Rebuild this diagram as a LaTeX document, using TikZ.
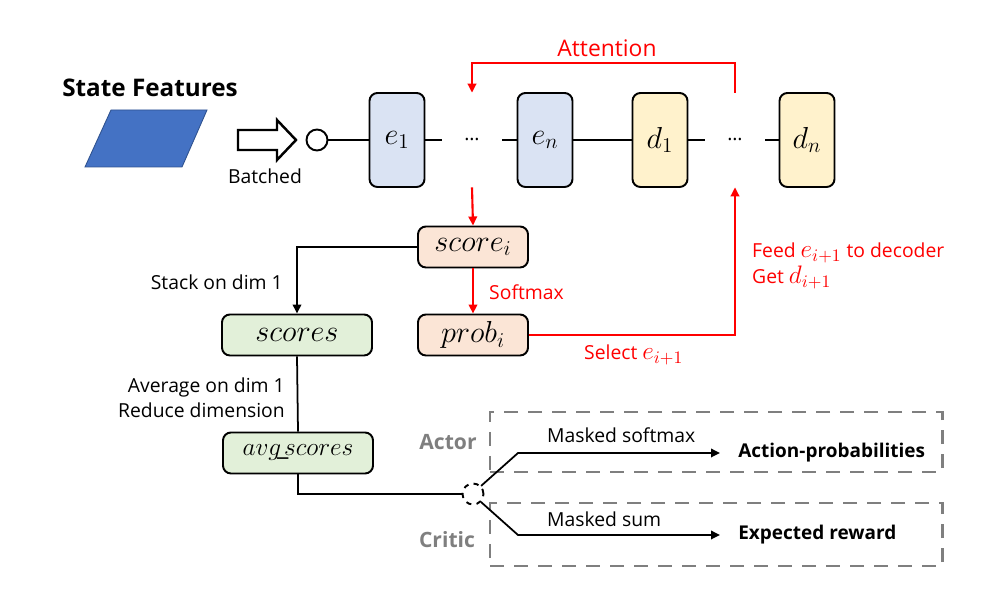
\documentclass[tikz,border=0pt]{standalone}
\usepackage[no-math]{fontspec}
\setmainfont{Open Sans}
\usetikzlibrary{arrows.meta,positioning,shapes.geometric}
\definecolor{encfill}{HTML}{DAE3F3}
\definecolor{decfill}{HTML}{FFF2CC}
\definecolor{opfill}{HTML}{FBE5D6}
\definecolor{aggfill}{HTML}{E2F0D9}
\definecolor{featblue}{HTML}{4472C4}
\definecolor{featedge}{HTML}{2F528F}
\definecolor{groupgray}{HTML}{7F7F7F}

\begin{document}
\begin{tikzpicture}[x=0.2mm, y=-0.2mm,
    every node/.style={align=center, font=\fontsize{11}{13.5}\selectfont},
    cell/.style={rectangle, rounded corners=4.5pt, draw=black, line width=1.1pt,
                 minimum width=1.1cm, minimum height=1.88cm, font=\LARGE},
    encbox/.style={cell, fill=encfill},
    decbox/.style={cell, fill=decfill},
    opbox/.style={rectangle, rounded corners=4.5pt, draw=black, line width=1.1pt,
                  fill=opfill, minimum width=2.2cm, minimum height=0.82cm, font=\LARGE},
    aggbox/.style={opbox, fill=aggfill, minimum width=3.0cm},
    gap/.style={minimum width=1.2cm, minimum height=1.88cm, inner sep=0pt},
    groupbox/.style={rectangle, draw=groupgray, line width=1.7pt,
                     dash pattern=on 0.28cm off 0.2cm, minimum width=9.04cm},
    grouptag/.style={font=\large\bfseries, text=groupgray},
    result/.style={font=\fontsize{10.8}{13}\selectfont\bfseries, anchor=west, inner xsep=0.36cm},
    redtxt/.style={text=red},
    link/.style={line width=1pt},
    arr/.style={link, -{Triangle[length=1.8mm, width=1.7mm]}},
    redarr/.style={arr, draw=red, line width=1.2pt}
  ]
  \useasboundingbox (0,0) rectangle (991,593);

  \node[font=\fontsize{13.8}{16}\selectfont\bfseries] (title) at (150,88) {State Features};
  \fill[featblue, draw=featedge, line width=0.5pt]
    (85,167) -- (111,110) -- (207,110) -- (182,167) -- cycle;
  \draw[line width=1.4pt] (238,130) -- (277,130) -- (277,120) -- (296,140)
    -- (277,160) -- (277,150) -- (238,150) -- cycle;
  \node (batched) at (265,176) {Batched};
  \node[circle, draw, line width=1.1pt, minimum size=0.42cm, inner sep=0pt] (inp) at (317,140) {};

  \node[encbox] (e1) at (397,140) {$e_1$};
  \node[gap] (dotsA) at (472,140) {\dots};
  \node[encbox] (en) at (545,140) {$e_n$};
  \node[decbox] (d1) at (660,140) {$d_1$};
  \node[gap] (dotsB) at (735,140) {\dots};
  \node[decbox] (dn) at (807,140) {$d_n$};

  \draw[link] (inp.east) -- (e1.west);
  \draw[link] (e1.east) -- (dotsA.west);
  \draw[link] (dotsA.east) -- (en.west);
  \draw[link] (en.east) -- (d1.west);
  \draw[link] (d1.east) -- (dotsB.west);
  \draw[link] (dotsB.east) -- (dn.west);

  \node[redtxt, font=\fontsize{13}{15}\selectfont] (attn) at (607,48) {Attention};
  \draw[redarr] (dotsB.north) -- ++(0,-30) -| (dotsA.north);

  \node[opbox] (score) at (473,247) {$score_i$};
  \node[opbox] (prob) at (473,335) {$prob_i$};
  \node[aggbox] (scores) at (297,335) {$scores$};
  \node[aggbox, font=\Large] (avg) at (298,453) {$avg\!\_\!scores$};

  \draw[redarr] (dotsA.south) -- (score.north);
  \draw[redarr] (score.south) -- (prob.north);
  \node[redtxt, anchor=west] (smax) at (483,292) {Softmax};
  \draw[redarr] (prob.east) -| (dotsB.south);
  \node[redtxt, anchor=west] (sel) at (578,355) {Select {\Large$e_{i+1}$}};
  \node[redtxt, anchor=west, align=left] (feed) at (746,266)
    {Feed {\Large$e_{i+1}$} to decoder\\[1pt] Get {\Large$d_{i+1}$}};

  \draw[arr] (score.west) -| (scores.north);
  \node[anchor=east] (stack) at (289,282) {Stack on dim 1};
  \draw[link] (scores.south) -- (avg.north);
  \node[anchor=east, align=right] (reduce) at (291,398)
    {Average on dim 1\\[1pt] Reduce dimension};

  \node[circle, draw, dashed, line width=1.1pt, minimum size=0.42cm, inner sep=0pt] (split) at (473,494) {};
  \draw[link] (avg.south) |- (split.west);

  \node[groupbox, minimum height=1.2cm] (actorbox) at (716,442) {};
  \node[groupbox, minimum height=1.26cm] (criticbox) at (716,534.5) {};
  \node[grouptag] (actor) at (448,442) {Actor};
  \node[grouptag] (critic) at (447,540) {Critic};

  \coordinate (actk) at (518,453);
  \coordinate (crik) at (518,535);
  \node[result] (probs) at (720,453) {Action-probabilities};
  \node[result] (reward) at (720,535) {Expected reward};
  \draw[arr] (split.north east) -- (actk) -- (probs.west);
  \draw[arr] (split.south east) -- (crik) -- (reward.west);
  \node[anchor=west] (msoft) at (541,435) {Masked softmax};
  \node[anchor=west] (msum) at (541,519) {Masked sum};
\end{tikzpicture}
\end{document}
